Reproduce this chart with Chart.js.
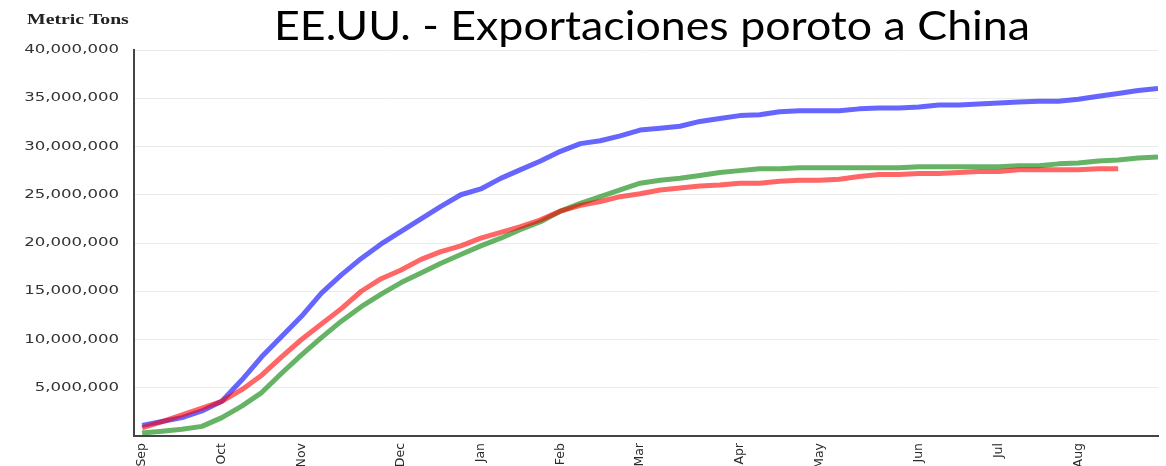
<!DOCTYPE html>
<html>
<head>
<meta charset="utf-8">
<script src="https://cdn.jsdelivr.net/npm/chart.js@4/dist/chart.umd.min.js"></script>
<style>
  html, body { margin: 0; padding: 0; background: #fff; }
  #wrap { width: 1166px; height: 466px; position: relative; }
</style>
</head>
<body>
<div id="wrap"><canvas id="c" width="1166" height="466"></canvas></div>
<script>
// semanas (índice 0 = primera semana de septiembre)
const monthWeeks = [0, 4, 8, 13, 17, 21, 25, 30, 34, 39, 43, 47];
const monthLabels = ["Sep", "Oct", "Nov", "Dec", "Jan", "Feb", "Mar", "Apr", "May", "Jun", "Jul", "Aug"];
const yTicks = [5000000, 10000000, 15000000, 20000000, 25000000, 30000000, 35000000, 40000000];

// toneladas acumuladas, una por semana
const blueSeries = [
  1100000, 1500000, 1900000, 2600000, 3600000, 5800000, 8200000, 10300000, 12400000, 14800000,
  16700000, 18400000, 19900000, 21200000, 22500000, 23800000, 25000000, 25600000, 26700000, 27600000,
  28500000, 29500000, 30300000, 30600000, 31100000, 31700000, 31900000, 32100000, 32600000, 32900000,
  33200000, 33300000, 33600000, 33700000, 33700000, 33700000, 33900000, 34000000, 34000000, 34100000,
  34300000, 34300000, 34400000, 34500000, 34600000, 34700000, 34700000, 34900000, 35200000, 35500000,
  35800000, 36000000
];
const greenSeries = [
  300000, 500000, 700000, 1000000, 1900000, 3100000, 4500000, 6500000, 8400000, 10200000,
  11900000, 13400000, 14700000, 15900000, 16900000, 17900000, 18800000, 19700000, 20500000, 21400000,
  22200000, 23300000, 24100000, 24800000, 25500000, 26200000, 26500000, 26700000, 27000000, 27300000,
  27500000, 27700000, 27700000, 27800000, 27800000, 27800000, 27800000, 27800000, 27800000, 27900000,
  27900000, 27900000, 27900000, 27900000, 28000000, 28000000, 28200000, 28300000, 28500000, 28600000,
  28800000, 28900000
];
const redSeries = [
  850000, 1500000, 2200000, 2900000, 3600000, 4800000, 6300000, 8200000, 10000000, 11600000,
  13200000, 15000000, 16300000, 17200000, 18300000, 19100000, 19700000, 20500000, 21100000, 21700000,
  22400000, 23300000, 23900000, 24300000, 24800000, 25100000, 25500000, 25700000, 25900000, 26000000,
  26200000, 26200000, 26400000, 26500000, 26500000, 26600000, 26900000, 27100000, 27100000, 27200000,
  27200000, 27300000, 27400000, 27400000, 27600000, 27600000, 27600000, 27600000, 27700000, 27700000
];

const toPoints = (arr) => arr.map((v, i) => ({ x: i, y: v }));
const fmt = (v) => v.toLocaleString("en-US");

// textos fuera del área del gráfico (título, unidad, etiquetas del eje Y)
const textPlugin = {
  id: "textos",
  afterDraw(chart) {
    const { ctx } = chart;
    const y = chart.scales.y;
    ctx.save();

    // título (ancho estirado como en la imagen original)
    const title = "EE.UU. - Exportaciones poroto a China";
    ctx.fillStyle = "#000";
    ctx.textBaseline = "alphabetic";
    ctx.textAlign = "left";
    ctx.font = "41.5px Lato";
    const sx = 756 / ctx.measureText(title).width;
    ctx.save();
    ctx.translate(274, 39.5);
    ctx.scale(sx, 1);
    ctx.fillText(title, 0, 0);
    ctx.restore();

    // unidad
    ctx.save();
    ctx.translate(27, 24);
    ctx.scale(1.41, 1);
    ctx.font = "bold 14px 'Liberation Serif'";
    ctx.fillStyle = "#222";
    ctx.fillText("Metric Tons", 0, 0);
    ctx.restore();

    // etiquetas eje Y
    ctx.font = "12px 'DejaVu Sans'";
    ctx.fillStyle = "#333";
    ctx.textAlign = "right";
    ctx.textBaseline = "middle";
    yTicks.forEach((v) => {
      ctx.save();
      ctx.translate(119, y.getPixelForValue(v));
      ctx.scale(1.38, 1);
      ctx.fillText(fmt(v), 0, 0);
      ctx.restore();
    });

    ctx.restore();
  },
};

new Chart(document.getElementById("c"), {
  type: "line",
  data: {
    datasets: [
      { data: toPoints(redSeries), borderColor: "rgba(255,0,0,0.6)" },
      { data: toPoints(greenSeries), borderColor: "rgba(0,128,0,0.6)" },
      { data: toPoints(blueSeries), borderColor: "rgba(0,0,255,0.6)" },
    ],
  },
  options: {
    responsive: false,
    animation: false,
    layout: { padding: { left: 0, right: 8, top: 50, bottom: 0 } },
    elements: {
      line: { borderWidth: 5, tension: 0, fill: false, borderCapStyle: "butt", borderJoinStyle: "round" },
      point: { radius: 0, hoverRadius: 0 },
    },
    plugins: { legend: { display: false }, tooltip: { enabled: false } },
    scales: {
      x: {
        type: "linear",
        min: -0.41,
        max: 51,
        afterBuildTicks(scale) {
          scale.ticks = monthWeeks.map((v) => ({ value: v }));
        },
        afterFit(scale) {
          scale.height = 30;
        },
        grid: { display: false, drawTicks: false },
        border: { display: true, color: "#444", width: 2 },
        ticks: {
          autoSkip: false,
          maxRotation: 90,
          minRotation: 90,
          padding: 7,
          color: "#2b2b2b",
          font: { family: "DejaVu Sans", size: 12.5 },
          callback: (v) => monthLabels[monthWeeks.indexOf(v)] ?? "",
        },
      },
      y: {
        min: 0,
        max: 40000000,
        afterFit(scale) {
          scale.width = 134;
        },
        afterBuildTicks(scale) {
          scale.ticks = [0].concat(yTicks).map((v) => ({ value: v }));
        },
        grid: { color: "#ebebeb", lineWidth: 1, drawTicks: false },
        border: { display: true, color: "#444", width: 2 },
        ticks: { display: false },
      },
    },
  },
  plugins: [textPlugin],
});
</script>
</body>
</html>
